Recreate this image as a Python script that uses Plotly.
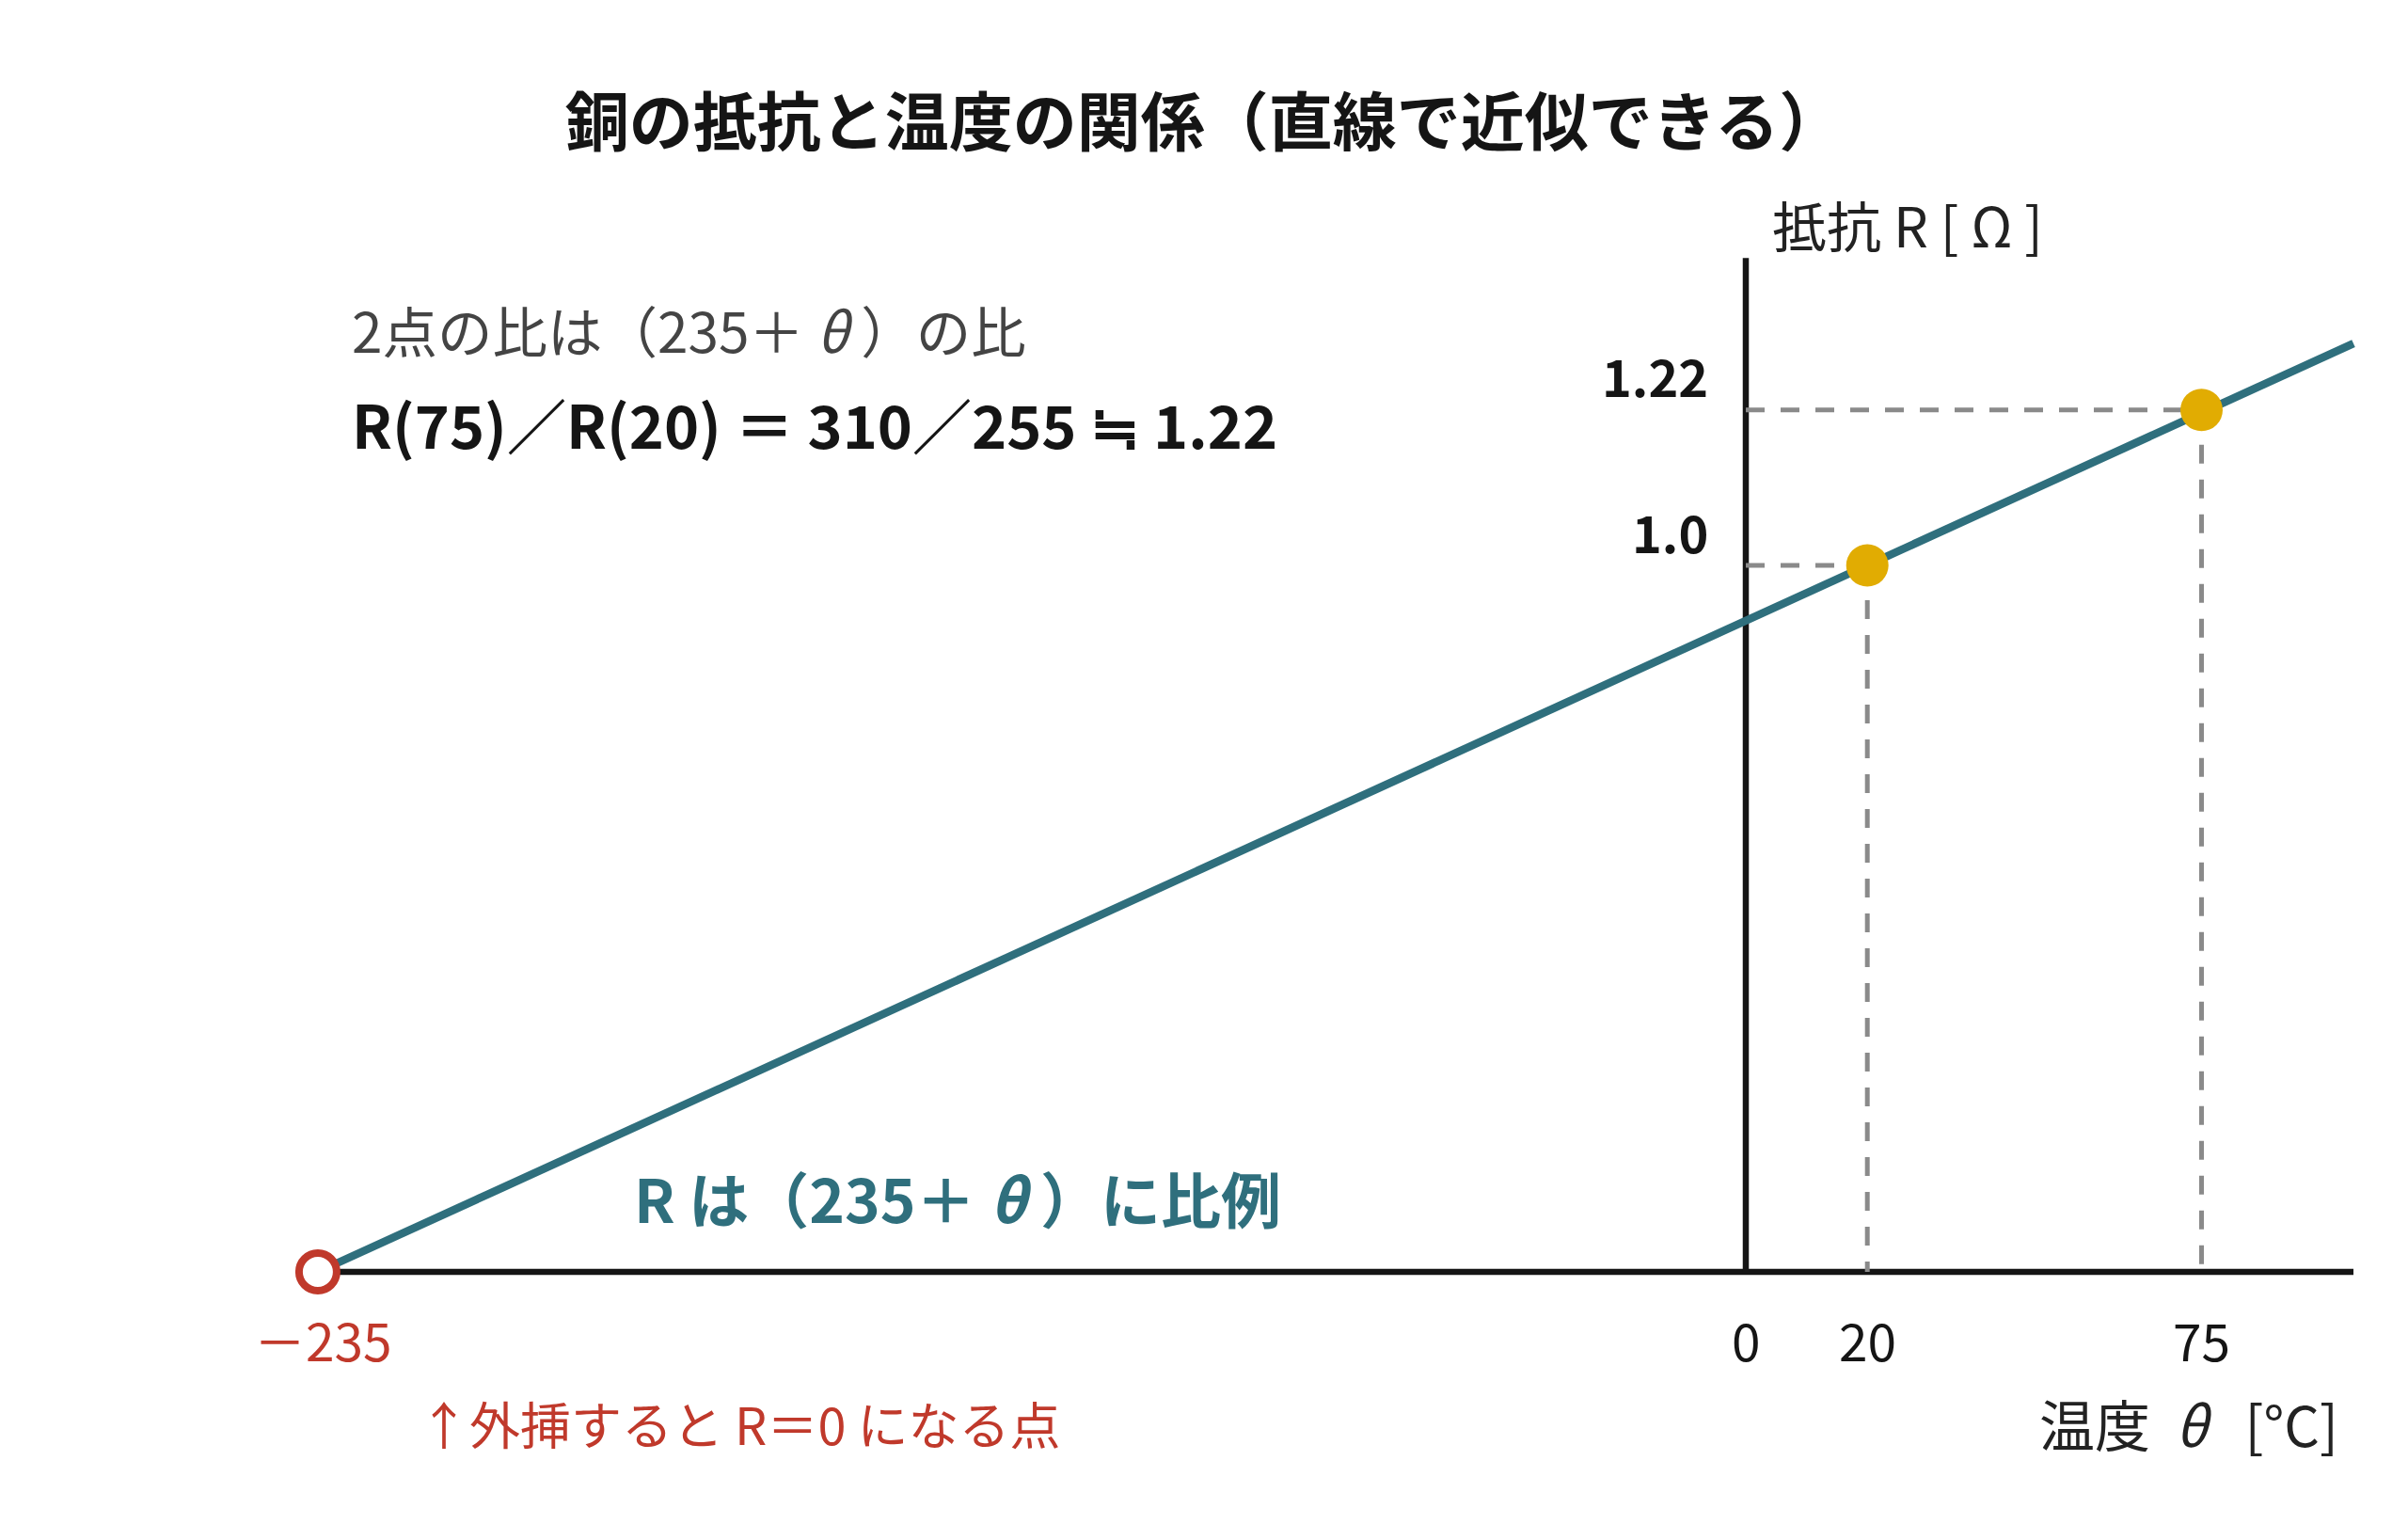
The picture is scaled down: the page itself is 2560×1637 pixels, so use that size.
import plotly.graph_objects as go

# ---- data ----
theta_line = [-235, 100]
r_line = [0.0, 1.314]
theta_pts = [20, 75]
r_pts = [1.0, 1.22]
x_tick_vals = [-235, 0, 20, 75]
x_tick_text = ["－235", "0", "20", "75"]
y_tick_vals = [1.0, 1.22]
y_tick_text = ["1.0", "1.22"]
x_axis_extent = [-235, 100]
y_axis_extent = [0.0, 1.435]

W, H = 2560, 1637
FONT = "Noto Sans CJK JP"
TEAL = "#2f6f7d"
GOLD = "#e1ac02"
RED = "#c0392b"
GRAY = "#8a8a8a"
INK = "#151515"
NB = "\u00a0"

# pixel mapping (plot area == full figure)
X0PX, XSCALE = 1856, 6.46
Y0PX, YSCALE = 1352, 751
xr = [-X0PX / XSCALE, (W - X0PX) / XSCALE]
yr = [-(H - Y0PX) / YSCALE, Y0PX / YSCALE]

fig = go.Figure()

# axes lines
fig.add_trace(go.Scatter(x=x_axis_extent, y=[0, 0], mode="lines",
                         line=dict(color=INK, width=6.5), hoverinfo="skip", showlegend=False))
fig.add_trace(go.Scatter(x=[0, 0], y=y_axis_extent, mode="lines",
                         line=dict(color=INK, width=6.5), hoverinfo="skip", showlegend=False))

# dashed guide lines
for t, r in zip(theta_pts, r_pts):
    fig.add_trace(go.Scatter(x=[0, t], y=[r, r], mode="lines",
                             line=dict(color=GRAY, width=5, dash="20px,17px"),
                             hoverinfo="skip", showlegend=False))
    fig.add_trace(go.Scatter(x=[t, t], y=[r, 0], mode="lines",
                             line=dict(color=GRAY, width=5, dash="20px,17px"),
                             hoverinfo="skip", showlegend=False))

# main line
fig.add_trace(go.Scatter(x=theta_line, y=r_line, mode="lines",
                         line=dict(color=TEAL, width=8.5), showlegend=False))

# points
fig.add_trace(go.Scatter(x=theta_pts, y=r_pts, mode="markers",
                         marker=dict(color=GOLD, size=45, line=dict(width=0)), showlegend=False))
fig.add_trace(go.Scatter(x=[theta_line[0]], y=[r_line[0]], mode="markers",
                         marker=dict(color="white", size=40, line=dict(color=RED, width=8)),
                         showlegend=False))

# x tick labels
for v, txt in zip(x_tick_vals, x_tick_text):
    fig.add_annotation(x=v, y=0, xref="x", yref="y", text=txt, showarrow=False,
                       yshift=-71, xshift=(6 if v < 0 else 0), xanchor="center", yanchor="middle",
                       font=dict(family=FONT, size=55, color=RED if v < 0 else INK))

# y tick labels
for v, txt in zip(y_tick_vals, y_tick_text):
    fig.add_annotation(x=0, y=v, xref="x", yref="y", text="<b>" + txt + "</b>", showarrow=False,
                       xshift=-38, yshift=37, xanchor="right", yanchor="middle",
                       font=dict(family=FONT, size=54, color=INK))

def px(xp, yp):
    return xp / W, 1 - yp / H

def note(xp, yp, text, size, color, xanchor="left"):
    x, y = px(xp, yp)
    fig.add_annotation(x=x, y=y, xref="paper", yref="paper", text=text, showarrow=False,
                       xanchor=xanchor, yanchor="middle",
                       font=dict(family=FONT, size=size, color=color))

note(1882, 238, "抵抗" + NB + "R" + NB + "[" + NB + "Ω" + NB + "]", 58, "#222222")
note(2488, 1512, "温度" + NB + NB + "<i>θ</i>" + NB + NB + NB + "[°C]", 59, "#222222", xanchor="right")
note(372, 349, "2点の比は（235＋" + NB + "<i>θ</i>" + NB + "）の比", 58.5, "#444444")
note(372, 449, "<b>R(75)／R(20)" + NB + "＝" + NB + "310／255" + NB + "≒" + NB + "1.22</b>", 63, INK)
note(1018, 1272, "<b>R" + NB + "は（235＋" + NB + "<i>θ</i>" + NB + "）に比例</b>", 64, TEAL, xanchor="center")
note(443, 1512, "↑外挿すると" + NB + "R＝0" + NB + "になる点", 54, RED)

fig.update_layout(
    width=W, height=H,
    margin=dict(l=0, r=0, t=0, b=0),
    paper_bgcolor="white", plot_bgcolor="white",
    title=dict(text="<b>銅の抵抗と温度の関係（直線で近似できる）</b>",
               x=1280 / W, y=1 - 131 / H, xanchor="center", yanchor="middle",
               font=dict(family=FONT, size=68, color=INK)),
    xaxis=dict(range=xr, visible=False, fixedrange=True),
    yaxis=dict(range=yr, visible=False, fixedrange=True),
    showlegend=False,
)

fig.write_html("out.html")
